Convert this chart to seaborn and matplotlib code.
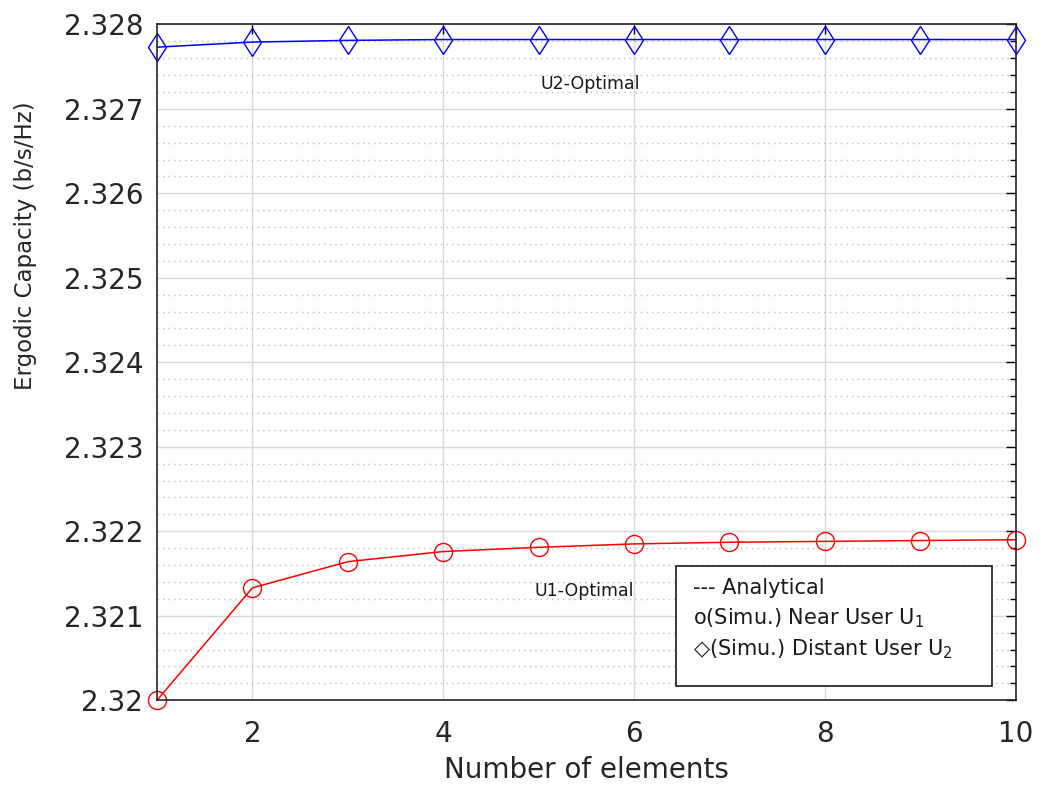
import numpy as np
import pandas as pd
import matplotlib
matplotlib.use("Agg")
import matplotlib.pyplot as plt
from matplotlib.ticker import MultipleLocator
from matplotlib.patches import Rectangle
import seaborn as sns

# data
elements = [1, 2, 3, 4, 5, 6, 7, 8, 9, 10]
near_u1 = [2.32000, 2.32133, 2.32164, 2.32176, 2.32181, 2.32185, 2.32187, 2.32188, 2.32189, 2.32190]
distant_u2 = [2.32773, 2.32779, 2.32781, 2.32782, 2.32782, 2.32782, 2.32782, 2.32782, 2.32782, 2.32782]

sns.set_theme(style="white")
plt.rcParams["font.family"] = ["DejaVu Sans"]

df = pd.DataFrame({
    "n": elements * 2,
    "cap": near_u1 + distant_u2,
    "user": ["U1"] * len(elements) + ["U2"] * len(elements),
})

fig = plt.figure(figsize=(10.47, 7.85), dpi=100)
ax = fig.add_axes([0.150, 0.108, 0.820, 0.861])

sns.lineplot(data=df[df.user == "U1"], x="n", y="cap", color="red", lw=1.1,
             marker="o", markersize=13, markerfacecolor="none",
             markeredgecolor="red", markeredgewidth=1.0, clip_on=False, ax=ax)
sns.lineplot(data=df[df.user == "U2"], x="n", y="cap", color="blue", lw=1.1,
             marker="d", markersize=14.5, markerfacecolor="none",
             markeredgecolor="blue", markeredgewidth=1.0, clip_on=False, ax=ax)

ax.set_xlim(1, 10)
ax.set_ylim(2.32, 2.328)
ax.set_xticks([2, 4, 6, 8, 10])
ax.set_yticks([2.32, 2.321, 2.322, 2.323, 2.324, 2.325, 2.326, 2.327, 2.328])
ax.set_yticklabels(["2.32", "2.321", "2.322", "2.323", "2.324", "2.325", "2.326", "2.327", "2.328"])
ax.yaxis.set_minor_locator(MultipleLocator(0.0002))
ax.tick_params(which="both", direction="in", top=True, right=True, colors="black",
               labelcolor="#262626")
ax.tick_params(which="major", length=7, width=1, labelsize=20)
ax.tick_params(axis="x", which="major", pad=14)
ax.tick_params(axis="y", which="major", pad=10)
ax.tick_params(which="minor", length=4, width=1)
ax.grid(which="major", color="#d9d9d9", lw=1.0, ls="-")
ax.grid(which="minor", axis="y", color="#bcbcbc", lw=1.0, ls=(0, (1, 3)))
for s in ax.spines.values():
    s.set_color("#262626")
    s.set_linewidth(1.2)

ax.set_xlabel("Number of elements", fontsize=20, color="#262626", labelpad=6)
ax.set_ylabel("Ergodic Capacity (b/s/Hz)", fontsize=16.5, color="#262626")
ax.yaxis.set_label_coords(-0.14, 0.673)

ax.text(5.54, 2.32729, "U2-Optimal", fontsize=12.5, ha="center", va="center", color="#1a1a1a")
ax.text(5.48, 2.32129, "U1-Optimal", fontsize=12.5, ha="center", va="center", color="#1a1a1a")

# hand-made legend box, as in the original
ax.add_patch(Rectangle((0.605, 0.021), 0.367, 0.177, transform=ax.transAxes,
                       fc="white", ec="#1a1a1a", lw=1.2, zorder=5))
legend_lines = ["--- Analytical", "o(Simu.) Near User U$_1$", "◇(Simu.) Distant User U$_2$"]
legend_y = [0.166, 0.122, 0.075]
for txt, yy in zip(legend_lines, legend_y):
    ax.text(0.624, yy, txt, transform=ax.transAxes, fontsize=15, va="center",
            ha="left", color="#1a1a1a", zorder=6)

fig.savefig("out.png", dpi=100, facecolor="white")
